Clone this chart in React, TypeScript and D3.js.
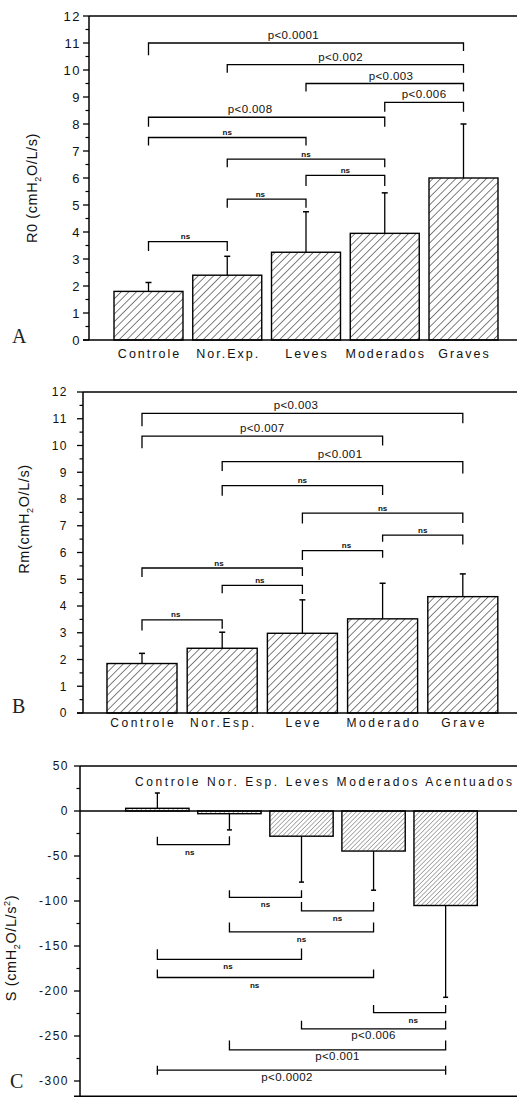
import React from "react";
import * as d3 from "d3";

// ---------------- DATA ----------------
const groupsA = ["Controle", "Nor.Exp.", "Leves", "Moderados", "Graves"];
const meanA = [1.8, 2.4, 3.25, 3.95, 6.0];
const sdA = [0.33, 0.7, 1.5, 1.5, 2.0];
const ticksA = [0, 1, 2, 3, 4, 5, 6, 7, 8, 9, 10, 11, 12];
const tickLabelsA = ticksA.map(String);

const groupsB = ["Controle", "Nor.Esp.", "Leve", "Moderado", "Grave"];
const meanB = [1.85, 2.42, 2.98, 3.52, 4.35];
const sdB = [0.38, 0.6, 1.25, 1.33, 0.85];
const ticksB = [0, 1, 2, 3, 4, 5, 6, 7, 8, 9, 10, 11, 12];
const tickLabelsB = ticksB.map(String);

const groupsC = ["Controle", "Nor. Esp.", "Leves", "Moderados", "Acentuados"];
const meanC = [3, -3, -28, -44.5, -105];
const sdC = [17, 18, 51, 43.5, 102];
const ticksC = [50, 0, -50, -100, -150, -200, -250, -300];
const tickLabelsC = ["50", "0", "-50", "-100", "-150", "-200", "-250", "-300"];

type Bracket = {
  from: number;
  to: number;
  at: number;
  dropL: number;
  dropR: number;
  label: string;
  pos?: number;
  end2?: number;
};

const bracketsA: Bracket[] = [
  { from: 0, to: 4, at: 11, dropL: 10.55, dropR: 10.7, label: "p<0.0001", pos: 0.46 },
  { from: 1, to: 4, at: 10.2, dropL: 9.9, dropR: 9.9, label: "p<0.002", pos: 0.48 },
  { from: 2, to: 4, at: 9.5, dropL: 9.2, dropR: 9.2, label: "p<0.003", pos: 0.54 },
  { from: 3, to: 4, at: 8.8, dropL: 8.45, dropR: 8.45, label: "p<0.006", pos: 0.5 },
  { from: 0, to: 3, at: 8.25, dropL: 7.9, dropR: 7.9, label: "p<0.008", pos: 0.43 },
  { from: 0, to: 2, at: 7.5, dropL: 7.2, dropR: 7.2, label: "ns", pos: 0.5 },
  { from: 1, to: 3, at: 6.7, dropL: 6.4, dropR: 6.4, label: "ns", pos: 0.5 },
  { from: 2, to: 3, at: 6.1, dropL: 5.7, dropR: 5.7, label: "ns", pos: 0.5 },
  { from: 1, to: 2, at: 5.22, dropL: 4.9, dropR: 4.9, label: "ns", pos: 0.42 },
  { from: 0, to: 1, at: 3.64, dropL: 3.3, dropR: 3.3, label: "ns", pos: 0.47 },
];

const bracketsB: Bracket[] = [
  { from: 0, to: 4, at: 11.2, dropL: 10.72, dropR: 10.83, label: "p<0.003", pos: 0.48 },
  { from: 0, to: 3, at: 10.35, dropL: 9.9, dropR: 10.0, label: "p<0.007", pos: 0.5 },
  { from: 1, to: 4, at: 9.4, dropL: 9.05, dropR: 8.95, label: "p<0.001", pos: 0.49 },
  { from: 1, to: 3, at: 8.5, dropL: 8.12, dropR: 8.15, label: "ns", pos: 0.5 },
  { from: 2, to: 4, at: 7.47, dropL: 7.08, dropR: 7.1, label: "ns", pos: 0.5 },
  { from: 3, to: 4, at: 6.65, dropL: 6.4, dropR: 6.3, label: "ns", pos: 0.5 },
  { from: 2, to: 3, at: 6.07, dropL: 5.72, dropR: 5.8, label: "ns", pos: 0.55 },
  { from: 0, to: 2, at: 5.42, dropL: 5.08, dropR: 5.12, label: "ns", pos: 0.48 },
  { from: 1, to: 2, at: 4.77, dropL: 4.48, dropR: 4.45, label: "ns", pos: 0.47 },
  { from: 0, to: 1, at: 3.48, dropL: 3.08, dropR: 3.15, label: "ns", pos: 0.42 },
];

const bracketsC: Bracket[] = [
  { from: 0, to: 1, at: -37.4, dropL: -28.5, dropR: -28, label: "ns", pos: 0.45 },
  { from: 1, to: 2, at: -96, dropL: -88, dropR: -88, label: "ns", pos: 0.5 },
  { from: 2, to: 3, at: -111, dropL: -101, dropR: -101, label: "ns", pos: 0.5 },
  { from: 1, to: 3, at: -134.4, dropL: -124, dropR: -124, label: "ns", pos: 0.5 },
  { from: 0, to: 2, at: -164.8, dropL: -153.7, dropR: -152.7, label: "ns", pos: 0.49 },
  { from: 0, to: 3, at: -185, dropL: -176, dropR: -176, label: "ns", pos: 0.45 },
  { from: 3, to: 4, at: -224, dropL: -215.5, dropR: -215.5, label: "ns", pos: 0.55 },
  { from: 2, to: 4, at: -242, dropL: -233, dropR: -233, label: "p<0.006", pos: 0.5 },
  { from: 1, to: 4, at: -265.5, dropL: -255, dropR: -255, label: "p<0.001", pos: 0.5 },
  { from: 0, to: 4, at: -288, dropL: -283, dropR: -283, label: "p<0.0002", pos: 0.45, end2: -293 },
];

// ---------------- RENDER ----------------
const SANS = "'Liberation Sans', Arial, Helvetica, sans-serif";
const SERIF = "'Liberation Serif', 'Times New Roman', serif";

interface PanelSpec {
  groups: string[];
  mean: number[];
  sd: number[];
  ticks: number[];
  tickLabels: string[];
  minorStep: number;
  brackets: Bracket[];
  yDomain: [number, number];
  yRange: [number, number];
  axisX: number;
  xRange: [number, number];
  pi: number;
  po: number;
  hatch: string;
  below: boolean;
  tickFont: number;
  tickGap: number;
  catMode: "below" | "top";
  catY: number;
  catSpacing: number;
  catFont: number;
  topLine: boolean;
  capHalf: number;
}

function Panel({ s }: { s: PanelSpec }) {
  const y = d3.scaleLinear().domain(s.yDomain).range(s.yRange);
  const x = d3
    .scaleBand<string>()
    .domain(s.groups)
    .range(s.xRange)
    .paddingInner(s.pi)
    .paddingOuter(s.po);
  const bw = x.bandwidth();
  const cx = (i: number) => (x(s.groups[i]) ?? 0) + bw / 2;
  const y0 = y(0);
  const botY = s.yRange[0];
  const topY = s.yRange[1];
  const right = 520;
  const minor = d3
    .range(s.yDomain[0], s.yDomain[1] + 1e-9, s.minorStep)
    .filter((v) => Math.abs(v / s.minorStep) % 2 === 1 || Math.abs(Math.round(v / s.minorStep)) % 2 === 1);
  const minorTicks = d3
    .range(Math.ceil(s.yDomain[0] / s.minorStep), Math.floor(s.yDomain[1] / s.minorStep) + 1)
    .filter((k) => Math.abs(k) % 2 === 1)
    .map((k) => k * s.minorStep);
  void minor;

  return (
    <g>
      {/* bars + error bars */}
      {s.groups.map((g, i) => {
        const m = s.mean[i];
        const e = m >= 0 ? m + s.sd[i] : m - s.sd[i];
        const yt = Math.min(y(m), y0);
        const h = Math.abs(y(m) - y0);
        const c = cx(i);
        return (
          <g key={g}>
            <line x1={c} x2={c} y1={y(m)} y2={y(e)} stroke="#000" strokeWidth={1.3} />
            <line x1={c - s.capHalf} x2={c + s.capHalf} y1={y(e)} y2={y(e)} stroke="#000" strokeWidth={1.5} />
            <rect
              x={x(g)}
              y={yt}
              width={bw}
              height={h}
              fill={`url(#${s.hatch})`}
              stroke="#000"
              strokeWidth={1.4}
            />
          </g>
        );
      })}

      {/* axes */}
      <line x1={s.axisX} x2={s.axisX} y1={topY} y2={botY} stroke="#000" strokeWidth={1.5} />
      {s.topLine && <line x1={s.axisX} x2={right} y1={topY} y2={topY} stroke="#000" strokeWidth={1.5} />}
      <line x1={s.axisX - 6} x2={right} y1={botY} y2={botY} stroke="#000" strokeWidth={1.5} />
      {Math.abs(y0 - botY) > 1 && (
        <line x1={s.axisX} x2={right} y1={y0} y2={y0} stroke="#000" strokeWidth={1.5} />
      )}
      {s.ticks.map((t, i) => (
        <g key={"t" + t}>
          <line x1={s.axisX - 6} x2={s.axisX} y1={y(t)} y2={y(t)} stroke="#000" strokeWidth={1.3} />
          <text
            x={s.axisX - s.tickGap}
            y={y(t)}
            dy="0.36em"
            textAnchor="end"
            fontFamily={SANS}
            fontSize={s.tickFont}
            letterSpacing={1.5}
            fill="#111"
          >
            {s.tickLabels[i]}
          </text>
        </g>
      ))}
      {minorTicks.map((t) => (
        <line key={"m" + t} x1={s.axisX - 3.5} x2={s.axisX} y1={y(t)} y2={y(t)} stroke="#000" strokeWidth={1.2} />
      ))}

      {/* category labels */}
      {s.catMode === "below" &&
        s.groups.map((g, i) => (
          <text
            key={"c" + g}
            x={cx(i) + s.catSpacing / 2}
            y={s.catY}
            textAnchor="middle"
            fontFamily={SANS}
            fontSize={s.catFont}
            letterSpacing={s.catSpacing}
            fill="#111"
          >
            {g}
          </text>
        ))}
      {s.catMode === "top" && (
        <text
          x={135}
          y={s.catY}
          fontFamily={SANS}
          fontSize={s.catFont}
          textLength={377}
          lengthAdjust="spacing"
          fill="#111"
        >
          {s.groups.join("  ")}
        </text>
      )}

      {/* significance brackets */}
      {s.brackets.map((b, i) => {
        const xa = cx(b.from);
        const xb = cx(b.to);
        const yy = y(b.at);
        const lx = xa + (xb - xa) * (b.pos ?? 0.5);
        const isNs = b.label === "ns";
        const ly = s.below ? yy + (isNs ? 10 : 10.5) : yy - (isNs ? 2.5 : 4);
        return (
          <g key={"b" + i}>
            <path
              d={`M${xa},${y(b.dropL)}V${yy}H${xb}V${y(b.dropR)}`}
              fill="none"
              stroke="#000"
              strokeWidth={1.3}
            />
            {b.end2 !== undefined && (
              <path
                d={`M${xa},${yy}V${y(b.end2)}M${xb},${yy}V${y(b.end2)}`}
                stroke="#000"
                strokeWidth={1.3}
              />
            )}
            <text
              x={lx}
              y={ly}
              textAnchor="middle"
              fontFamily={SANS}
              fontSize={isNs ? 8 : 11.5}
              fontWeight={isNs ? 700 : 400}
              letterSpacing={isNs ? 0 : 0.4}
              fill="#111"
            >
              {b.label}
            </text>
          </g>
        );
      })}
    </g>
  );
}

export default function App() {
  const specA: PanelSpec = {
    groups: groupsA,
    mean: meanA,
    sd: sdA,
    ticks: ticksA,
    tickLabels: tickLabelsA,
    minorStep: 0.5,
    brackets: bracketsA,
    yDomain: [0, 12],
    yRange: [340, 16],
    axisX: 89,
    xRange: [89, 523],
    pi: 0.124,
    po: 0.3175,
    hatch: "hatchAB",
    below: false,
    tickFont: 13,
    tickGap: 8,
    catMode: "below",
    catY: 358,
    catSpacing: 2,
    catFont: 12.5,
    topLine: true,
    capHalf: 3,
  };
  const specB: PanelSpec = {
    groups: groupsB,
    mean: meanB,
    sd: sdB,
    ticks: ticksB,
    tickLabels: tickLabelsB,
    minorStep: 0.5,
    brackets: bracketsB,
    yDomain: [0, 12],
    yRange: [713, 392],
    axisX: 83,
    xRange: [83, 521.8],
    pi: 0.127,
    po: 0.299,
    hatch: "hatchAB",
    below: false,
    tickFont: 12,
    tickGap: 15,
    catMode: "below",
    catY: 727,
    catSpacing: 2.6,
    catFont: 12,
    topLine: true,
    capHalf: 3,
  };
  const specC: PanelSpec = {
    groups: groupsC,
    mean: meanC,
    sd: sdC,
    ticks: ticksC,
    tickLabels: tickLabelsC,
    minorStep: 25,
    brackets: bracketsC,
    yDomain: [-317, 50],
    yRange: [1096.3, 766],
    axisX: 80,
    xRange: [80, 523],
    pi: 0.121,
    po: 0.634,
    hatch: "hatchC",
    below: true,
    tickFont: 12,
    tickGap: 11,
    catMode: "top",
    catY: 786,
    catSpacing: 2,
    catFont: 12,
    topLine: true,
    capHalf: 2.5,
  };

  return (
    <svg
      width={517}
      height={1098}
      viewBox="0 0 517 1098"
      style={{ position: "absolute", left: 0, top: 0, background: "#fff" }}
    >
      <defs>
        <pattern id="hatchAB" patternUnits="userSpaceOnUse" width={5.4} height={10} patternTransform="rotate(45)">
          <rect width={5.4} height={10} fill="#fff" />
          <line x1={0} y1={0} x2={0} y2={10} stroke="#000" strokeWidth={1} />
        </pattern>
        <pattern id="hatchC" patternUnits="userSpaceOnUse" width={3.2} height={10} patternTransform="rotate(45)">
          <rect width={3.2} height={10} fill="#fff" />
          <line x1={0} y1={0} x2={0} y2={10} stroke="#222" strokeWidth={0.8} />
        </pattern>
      </defs>
      <rect width={517} height={1098} fill="#fff" />

      <Panel s={specA} />
      <Panel s={specB} />
      <Panel s={specC} />

      {/* y axis titles */}
      <text
        transform="translate(37,188) rotate(-90)"
        textAnchor="middle"
        fontFamily={SANS}
        fontSize={14.5}
        letterSpacing={0.6}
        fill="#111"
      >
        R0 (cmH<tspan fontSize={9} dy={4}>2</tspan>
        <tspan dy={-4}>O/L/s)</tspan>
      </text>
      <text
        transform="translate(29,519) rotate(-90)"
        textAnchor="middle"
        fontFamily={SANS}
        fontSize={14.5}
        letterSpacing={0.6}
        fill="#111"
      >
        Rm(cmH<tspan fontSize={9} dy={4}>2</tspan>
        <tspan dy={-4}>O/L/s)</tspan>
      </text>
      <text
        transform="translate(16,948) rotate(-90)"
        textAnchor="middle"
        fontFamily={SANS}
        fontSize={14.5}
        letterSpacing={0.6}
        fill="#111"
      >
        S (cmH<tspan fontSize={9} dy={4}>2</tspan>
        <tspan dy={-4}>O/L/s</tspan>
        <tspan fontSize={9} dy={-6}>2</tspan>
        <tspan dy={6}>)</tspan>
      </text>

      {/* panel letters */}
      <text x={12} y={343} fontFamily={SERIF} fontSize={20} fill="#222">A</text>
      <text x={12} y={713} fontFamily={SERIF} fontSize={20} fill="#222">B</text>
      <text x={10} y={1088} fontFamily={SERIF} fontSize={20} fill="#222">C</text>
    </svg>
  );
}
